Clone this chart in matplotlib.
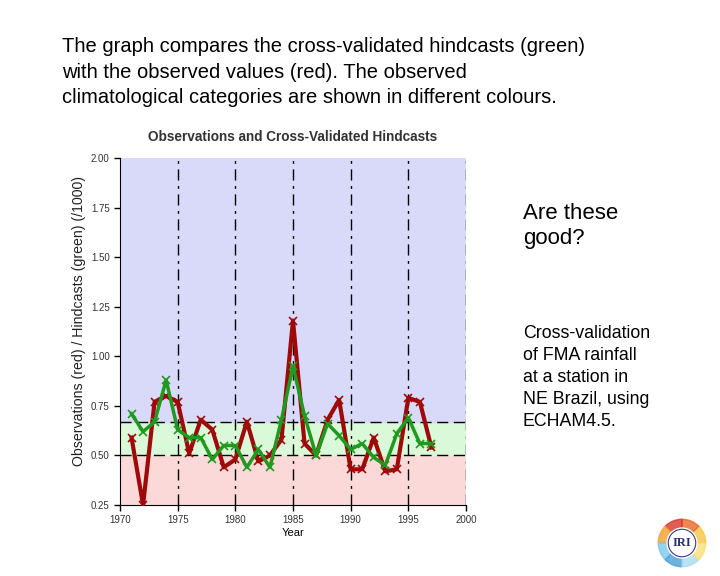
import numpy as np
import matplotlib.pyplot as plt
from matplotlib.patches import Wedge, Circle

#%%
years = list(range(1971, 1998))
observed = [0.59, 0.25, 0.77, 0.80, 0.77, 0.51, 0.68, 0.63, 0.44, 0.48,
            0.67, 0.47, 0.50, 0.58, 1.18, 0.56, 0.50, 0.68, 0.78, 0.43,
            0.43, 0.59, 0.42, 0.43, 0.79, 0.77, 0.54]
hindcast = [0.71, 0.62, 0.67, 0.88, 0.63, 0.59, 0.59, 0.48, 0.55, 0.55,
            0.44, 0.53, 0.44, 0.68, 0.95, 0.70, 0.50, 0.66, 0.60, 0.53,
            0.56, 0.49, 0.45, 0.61, 0.69, 0.56, 0.56]
# climatological category limits
lower_tercile = 0.50
upper_tercile = 0.67

title_text = ("The graph compares the cross-validated hindcasts (green)\n"
              "with the observed values (red). The observed\n"
              "climatological categories are shown in different colours.")
side_q = "Are these\ngood?"
side_note = ("Cross-validation\nof FMA rainfall\nat a station in\n"
             "NE Brazil, using\nECHAM4.5.")

#%%
plt.rcParams['font.family'] = ['Liberation Sans', 'DejaVu Sans']

fig = plt.figure(figsize=(7.2, 5.76), dpi=100)
fig.patch.set_facecolor('white')

fig.text(62/720, 1-37/576, title_text, fontsize=14.5, va='top', ha='left',
         linespacing=1.44)
fig.text(523/720, 1-203/576, side_q, fontsize=16, va='top', ha='left',
         linespacing=1.28)
fig.text(523/720, 1-325/576, side_note, fontsize=12.8, va='top', ha='left',
         linespacing=1.38)

ax = fig.add_axes([120/720, 1-505/576, 346/720, 347/576])
ymin, ymax = 0.25, 2.0
ax.axhspan(ymin, lower_tercile, color='#fcd9d9', zorder=0)
ax.axhspan(lower_tercile, upper_tercile, color='#d9f9d9', zorder=0)
ax.axhspan(upper_tercile, ymax, color='#d9d9fa', zorder=0)

dash = (0, (8, 4, 2, 4))
for yr in range(1975, 2001, 5):
    ax.axvline(yr, color='black', lw=1, ls=dash, zorder=1)
for yv in [lower_tercile, upper_tercile]:
    ax.axhline(yv, color='black', lw=1, ls=(0, (8, 4)), zorder=1)

ax.plot(years, observed, color='#9e0a0a', lw=3, marker='x', ms=6, mew=1.2,
        zorder=3)
ax.plot(years, hindcast, color='#1f9a1f', lw=2.5, marker='x', ms=6, mew=1.2,
        zorder=4)

ax.set_xlim(1970, 2000)
ax.set_ylim(ymin, ymax)
ax.set_xticks(range(1970, 2001, 5))
ax.set_yticks(np.arange(0.25, 2.01, 0.25))
ax.set_yticklabels([f"{v:.2f}" for v in np.arange(0.25, 2.01, 0.25)])
ax.tick_params(labelsize=7, length=4, width=1, colors='black',
               labelcolor='#333333')
for s in ['top', 'right']:
    ax.spines[s].set_visible(False)
ax.set_xlabel('Year', fontsize=8, labelpad=2)
fig.text(79/720, 1-321/576, 'Observations (red) / Hindcasts (green) (/1000)',
         fontsize=10.2, rotation=90, ha='center', va='center',
         color='#222222')
ax.set_title('Observations and Cross-Validated Hindcasts', fontsize=9.8,
             fontweight='bold', color='#333333', pad=12)

# IRI logo
lax = fig.add_axes([652/720, 1-568/576, 60/720, 50/576])
lax.set_xlim(-1, 1)
lax.set_ylim(-1, 1)
lax.set_aspect('equal')
lax.axis('off')
ring_cols = ['#f5c542', '#e96a2b', '#d9342b', '#f0a030', '#7fc8e8',
             '#4aa0d8', '#a8dcef', '#f7e07a']
for i, c in enumerate(ring_cols):
    lax.add_patch(Wedge((0, 0), 0.95, i*45, (i+1)*45, width=0.35, color=c,
                        alpha=0.8))
lax.add_patch(Circle((0, 0), 0.6, color='white'))
lax.add_patch(Circle((0, 0), 0.55, fill=False, ec='#3a3a8a', lw=0.8))
lax.text(0, 0, 'IRI', fontsize=9, fontweight='bold', color='#2a2a7a',
         ha='center', va='center', family='Liberation Serif')

fig.savefig('out.png', dpi=100)
